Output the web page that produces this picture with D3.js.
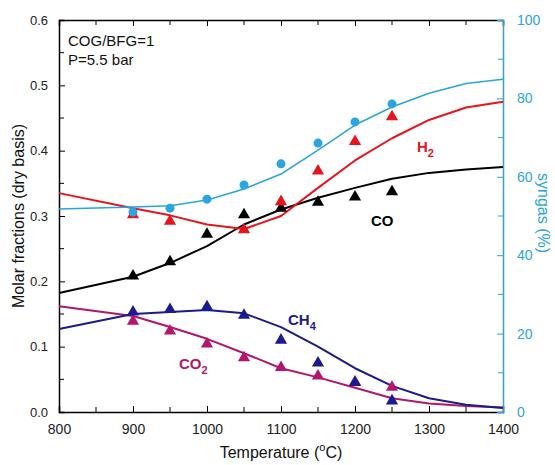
<!DOCTYPE html>
<html>
<head>
<meta charset="utf-8">
<script src="https://cdn.jsdelivr.net/npm/d3@7"></script>
<style>
  html, body { margin: 0; padding: 0; background: #fff; }
  svg { display: block; font-family: "Liberation Sans", Arial, sans-serif; }
</style>
</head>
<body>
<svg id="chart" width="555" height="465"></svg>
<script>
// model curves (lines)
const lineT = [800, 900, 950, 1000, 1050, 1100, 1150, 1200, 1250, 1300, 1350, 1400];
const lineCO  = [0.182, 0.207, 0.228, 0.254, 0.287, 0.310, 0.328, 0.343, 0.357, 0.366, 0.371, 0.375];
const lineH2  = [0.335, 0.312, 0.301, 0.287, 0.280, 0.300, 0.343, 0.385, 0.419, 0.447, 0.466, 0.475];
const lineCH4 = [0.127, 0.150, 0.153, 0.156, 0.151, 0.130, 0.100, 0.067, 0.040, 0.021, 0.011, 0.006];
const lineCO2 = [0.162, 0.147, 0.130, 0.112, 0.090, 0.067, 0.053, 0.037, 0.021, 0.013, 0.009, 0.007];
const lineSyngas = [51.8, 52.3, 52.6, 54.1, 56.9, 60.7, 66.8, 73.2, 77.8, 81.3, 83.8, 84.9];

// experimental points (markers)
const expT = [900, 950, 1000, 1050, 1100, 1150, 1200, 1250];
const expCO  = [0.208, 0.230, 0.272, 0.302, 0.312, 0.321, 0.329, 0.337];
const expH2  = [0.302, 0.292, null, 0.279, 0.322, 0.369, 0.414, 0.452];
const expCH4 = [0.153, 0.157, 0.161, 0.148, 0.110, 0.075, 0.045, 0.017];
const expCO2 = [0.139, 0.124, 0.104, 0.083, 0.068, 0.055, 0.046, 0.038];
const expSyngas = [51.0, 52.0, 54.3, 57.9, 63.3, 68.6, 74.0, 78.6];

const xTicks = [800, 900, 1000, 1100, 1200, 1300, 1400];
const yTicks = [0.0, 0.1, 0.2, 0.3, 0.4, 0.5, 0.6];
const y2Ticks = [0, 20, 40, 60, 80, 100];

const cBlack = "#000000", cRed = "#e8141b", cNavy = "#1b1a8e", cMag = "#b3166c", cCyan = "#2aa5dd";

const svg = d3.select("#chart");
const m = {left: 59, right: 503, top: 20, bottom: 412};

const x = d3.scaleLinear().domain([800, 1400]).range([m.left, m.right]);
const y = d3.scaleLinear().domain([0, 0.6]).range([m.bottom, m.top]);
const y2 = d3.scaleLinear().domain([0, 100]).range([m.bottom, m.top]);

// minor ticks
const xMinor = d3.range(850, 1400, 100);
const yMinor = d3.range(0.05, 0.6, 0.1);
const y2Minor = d3.range(10, 100, 20);

// bottom axis
const gx = svg.append("g").attr("transform", `translate(0,${m.bottom})`)
  .call(d3.axisBottom(x).tickValues(xTicks).tickFormat(d3.format("d")).tickSize(-6).tickPadding(12));
gx.selectAll(".tick text").attr("font-size", 14).attr("fill", "#222");
gx.append("g").selectAll("line").data(xMinor).join("line")
  .attr("x1", d => x(d)).attr("x2", d => x(d)).attr("y1", 0).attr("y2", -5).attr("stroke", "#000");

// top axis
const gt = svg.append("g").attr("transform", `translate(0,${m.top})`)
  .call(d3.axisTop(x).tickValues(xTicks).tickFormat("").tickSize(-6));
gt.append("g").selectAll("line").data(xMinor).join("line")
  .attr("x1", d => x(d)).attr("x2", d => x(d)).attr("y1", 0).attr("y2", 5).attr("stroke", "#000");

// left axis
const gy = svg.append("g").attr("transform", `translate(${m.left},0)`)
  .call(d3.axisLeft(y).tickValues(yTicks).tickFormat(d3.format(".1f")).tickSize(-6).tickPadding(11));
gy.selectAll(".tick text").attr("font-size", 13).attr("fill", "#222");
gy.append("g").selectAll("line").data(yMinor).join("line")
  .attr("y1", d => y(d)).attr("y2", d => y(d)).attr("x1", 0).attr("x2", 5).attr("stroke", "#000");

// right axis
const gy2 = svg.append("g").attr("transform", `translate(${m.right},0)`)
  .call(d3.axisRight(y2).tickValues(y2Ticks).tickSize(-6).tickPadding(14));
gy2.select(".domain").attr("stroke", cCyan).attr("stroke-width", 1.5);
gy2.selectAll(".tick line").attr("stroke", cCyan);
gy2.selectAll(".tick text").attr("font-size", 14).attr("fill", cCyan);
gy2.append("g").selectAll("line").data(y2Minor).join("line")
  .attr("y1", d => y2(d)).attr("y2", d => y2(d)).attr("x1", 0).attr("x2", -5).attr("stroke", cCyan);

[gx, gt, gy].forEach(g => g.select(".domain").attr("stroke-width", 1.5));

// lines
const mkLine = (vals, sc) => d3.line().x((d, i) => x(lineT[i])).y(d => sc(d))(vals);
const series = [
  {vals: lineCO2, sc: y, c: cMag, w: 2},
  {vals: lineCH4, sc: y, c: cNavy, w: 2},
  {vals: lineCO, sc: y, c: cBlack, w: 2},
  {vals: lineH2, sc: y, c: cRed, w: 2},
  {vals: lineSyngas, sc: y2, c: cCyan, w: 1.6}
];
series.forEach(s => {
  svg.append("path").attr("d", mkLine(s.vals, s.sc))
    .attr("fill", "none").attr("stroke", s.c).attr("stroke-width", s.w).attr("stroke-linejoin", "round");
});

// markers
const tri = d3.symbol().type(d3.symbolTriangle).size(64);
const pts = [
  {vals: expCO2, c: cMag},
  {vals: expCH4, c: cNavy},
  {vals: expCO, c: cBlack},
  {vals: expH2, c: cRed}
];
pts.forEach(p => {
  svg.append("g").selectAll("path").data(expT.map((t, i) => [t, p.vals[i]]).filter(d => d[1] != null))
    .join("path").attr("d", tri)
    .attr("transform", d => `translate(${x(d[0])},${y(d[1])})`)
    .attr("fill", p.c);
});
svg.append("g").selectAll("circle").data(expT.map((t, i) => [t, expSyngas[i]]))
  .join("circle").attr("cx", d => x(d[0])).attr("cy", d => y2(d[1])).attr("r", 4.5).attr("fill", cCyan);

// labels
const lbl = (tx, ty, main, sub, color) => {
  const t = svg.append("text").attr("x", tx).attr("y", ty).attr("fill", color)
    .attr("font-size", 15).attr("font-weight", "bold").text(main);
  if (sub) t.append("tspan").attr("font-size", 11).attr("dy", 5).text(sub);
};
lbl(417, 152, "H", "2", cRed);
lbl(371, 226, "CO", null, cBlack);
lbl(288, 325, "CH", "4", cNavy);
lbl(179, 369, "CO", "2", cMag);

svg.append("text").attr("x", 68).attr("y", 46).attr("font-size", 15).attr("fill", "#111").text("COG/BFG=1");
svg.append("text").attr("x", 68).attr("y", 65).attr("font-size", 15).attr("fill", "#111").text("P=5.5 bar");

// axis titles
const xt = svg.append("text").attr("x", 281).attr("y", 458).attr("text-anchor", "middle")
  .attr("font-size", 16).attr("fill", "#111").text("Temperature (");
xt.append("tspan").attr("font-size", 11).attr("dy", -7).text("o");
xt.append("tspan").attr("dy", 7).text("C)");

svg.append("text").attr("transform", `translate(24,216) rotate(-90)`).attr("text-anchor", "middle")
  .attr("font-size", 16).attr("fill", "#111").text("Molar fractions (dry basis)");
svg.append("text").attr("transform", `translate(538,213) rotate(90)`).attr("text-anchor", "middle")
  .attr("font-size", 16).attr("fill", cCyan).text("syngas (%)");
</script>
</body>
</html>
